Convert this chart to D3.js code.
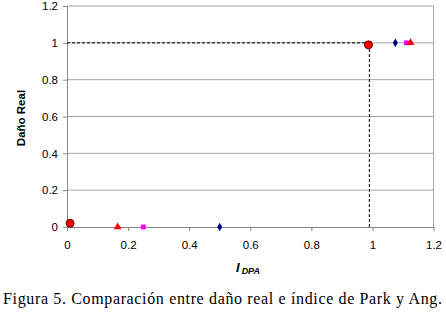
<!DOCTYPE html>
<html><head><meta charset="utf-8">
<script src="https://cdn.jsdelivr.net/npm/d3@7"></script>
<style>body{margin:0;background:#fff}</style>
</head><body>
<svg id="c" width="446" height="316"></svg>
<script>
const xTicks = [0, 0.2, 0.4, 0.6, 0.8, 1, 1.2];
const yTicks = [0, 0.2, 0.4, 0.6, 0.8, 1, 1.2];
const circleX = [0.01, 0.987];
const circleY = [0.02, 0.989];
const triangleX = [0.166, 1.125];
const triangleY = [0, 1];
const squareX = [0.25, 1.111];
const squareY = [0, 1];
const diamondX = [0.5, 1.075];
const diamondY = [0, 1];
const refX = 0.99, refY = 1;

const svg = d3.select("#c");
const x = d3.scaleLinear().domain([0, 1.2]).range([67, 433.5]);
const y = d3.scaleLinear().domain([0, 1.2]).range([227, 6]);

// gridlines
svg.append("g").selectAll("line").data(yTicks.filter(d => d > 0)).join("line")
  .attr("x1", x(0)).attr("x2", x(1.2)).attr("y1", d => y(d)).attr("y2", d => y(d))
  .attr("stroke", "#a6a6a6").attr("stroke-width", 1);
// right border
svg.append("line").attr("x1", x(1.2)).attr("x2", x(1.2)).attr("y1", y(0)).attr("y2", y(1.2))
  .attr("stroke", "#a6a6a6");

const xa = svg.append("g").attr("transform", `translate(0,${y(0)})`)
  .call(d3.axisBottom(x).tickValues(xTicks).tickFormat(d3.format("~g")).tickSizeInner(4).tickSizeOuter(0).tickPadding(10));
const ya = svg.append("g").attr("transform", `translate(${x(0)},0)`)
  .call(d3.axisLeft(y).tickValues(yTicks).tickFormat(d3.format("~g")).tickSizeInner(4).tickSizeOuter(0).tickPadding(5));
[xa, ya].forEach(a => {
  a.selectAll("path,line").attr("stroke", "#888");
  a.selectAll("text").attr("fill", "#000").style("font-family", "Liberation Sans, Arial, sans-serif").style("font-size", "11.5px");
});

// dashed reference lines
svg.append("line").attr("x1", x(0)).attr("x2", x(refX)).attr("y1", y(refY)).attr("y2", y(refY))
  .attr("stroke", "#000").attr("stroke-dasharray", "3,2");
svg.append("line").attr("x1", x(refX)).attr("x2", x(refX)).attr("y1", y(0)).attr("y2", y(refY))
  .attr("stroke", "#000").attr("stroke-dasharray", "3,2");

// markers
const sym = (type, size, xs, ys, fill, stroke) => {
  svg.append("g").selectAll("path").data(xs.map((v, i) => [v, ys[i]])).join("path")
    .attr("d", d3.symbol().type(type).size(size))
    .attr("transform", d => `translate(${x(d[0])},${y(d[1])})`)
    .attr("fill", fill).attr("stroke", stroke || "none").attr("stroke-width", 1);
};
sym(d3.symbolDiamond, 22, diamondX, diamondY, "#000080");
sym(d3.symbolSquare, 24, squareX, squareY, "#ff00ff");
sym(d3.symbolTriangle, 26, triangleX, triangleY, "#ff0000");
sym(d3.symbolCircle, 50, circleX, circleY, "#ff0000", "#600000");

// axis titles
svg.append("text").attr("transform", "translate(25,118) rotate(-90)").attr("text-anchor", "middle")
  .style("font-family", "Liberation Sans, Arial, sans-serif").style("font-size", "11.5px").style("font-weight", "bold")
  .text("Daño Real");
const t = svg.append("text").attr("x", 236).attr("y", 272)
  .style("font-family", "Liberation Sans, Arial, sans-serif").style("font-weight", "bold").style("font-style", "italic");
t.append("tspan").style("font-size", "13px").text("I");
t.append("tspan").attr("dx", 2).attr("dy", 2).style("font-size", "9px").text("DPA");

svg.append("text").attr("x", 3).attr("y", 304)
  .attr("textLength", 439).attr("lengthAdjust", "spacing")
  .style("font-family", "Liberation Serif, Times New Roman, serif").style("font-size", "16px")
  .text("Figura 5. Comparación entre daño real e índice de Park y Ang.");
</script>
</body></html>
